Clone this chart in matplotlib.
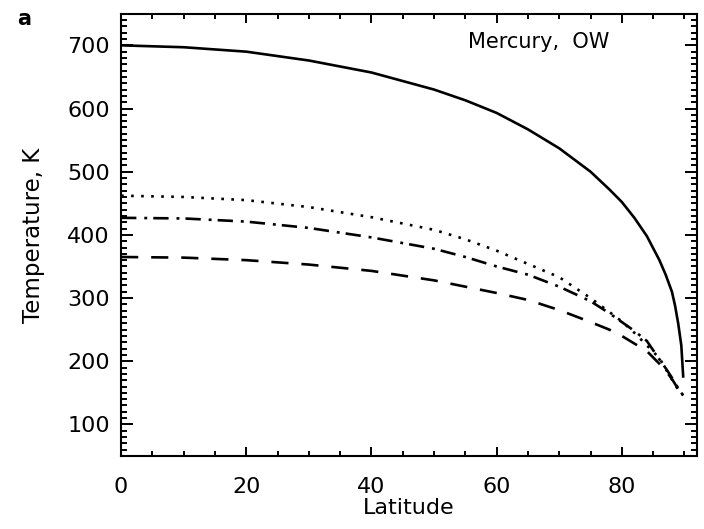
"""Mercury surface temperature vs latitude"""
import numpy as np
import matplotlib.pyplot as plt
from matplotlib.ticker import MultipleLocator

# values
latitude = [0, 10, 20, 30, 40, 50, 55, 60, 65, 70, 75, 78, 80, 82, 84, 86,
            87, 88, 88.5, 89, 89.5, 89.8]
t_solid = [700, 697, 690, 676, 657, 630, 613, 593, 567, 537, 500, 472, 452, 427,
           398, 360, 337, 310, 288, 260, 225, 176]
t_dotted = [462, 460, 455, 444, 428, 408, 393, 375, 354, 333, 300, 278, 263, 245,
            225, 205, 188, 171, 163, 155, 149, 146]
t_dashdot = [427, 426, 421, 411, 396, 378, 365, 350, 337, 318, 295, 276, 262, 248,
             232, 203, 189, 174, 166, 157, 150, 146]
t_dashed = [365, 364, 360, 353, 343, 328, 318, 308, 297, 281, 262, 250, 240, 228,
            216, 196, 185, 172, 164, 156, 150, 146]

fig = plt.figure(figsize=(7.04, 5.29), dpi=100)
ax = fig.add_axes([0.172, 0.138, 0.818, 0.836])

lw = 1.9
ax.plot(latitude, t_solid, color='black', lw=lw)
ax.plot(latitude, t_dotted, color='black', lw=lw, linestyle=(0, (1.0, 2.8)))
ax.plot(latitude, t_dashdot, color='black', lw=lw, linestyle=(0, (5.8, 3.0, 1.1, 2.3)))
ax.plot(latitude, t_dashed, color='black', lw=lw, linestyle=(0, (6.5, 4.9)))

ax.set_xlim(0, 92)
ax.set_ylim(50, 750)

ax.xaxis.set_major_locator(MultipleLocator(20))
ax.xaxis.set_minor_locator(MultipleLocator(5))
ax.yaxis.set_major_locator(MultipleLocator(100))
ax.yaxis.set_minor_locator(MultipleLocator(10))

ax.tick_params(axis='both', which='both', direction='in', top=True, right=True,
               width=1.4, colors='black', labelsize=16)
ax.tick_params(axis='y', which='major', length=8.5, pad=8)
ax.tick_params(axis='y', which='minor', length=4.5)
ax.tick_params(axis='x', which='major', length=6.5, pad=15)
ax.tick_params(axis='x', which='minor', length=3.5)
# y labels on left only, x labels on bottom only
ax.tick_params(labeltop=False, labelright=False)

for sp in ax.spines.values():
    sp.set_linewidth(1.5)

ax.set_xlabel('Latitude', fontsize=16, labelpad=1)
ax.set_ylabel('Temperature, K', fontsize=16.5, labelpad=16)

ax.text(0.603, 0.935, 'Mercury,  OW', transform=ax.transAxes, fontsize=15,
        ha='left', va='center')
fig.text(0.025, 0.965, 'a', fontsize=15, fontweight='bold', ha='left', va='center')

plt.savefig('out.png', dpi=100)
plt.close()
